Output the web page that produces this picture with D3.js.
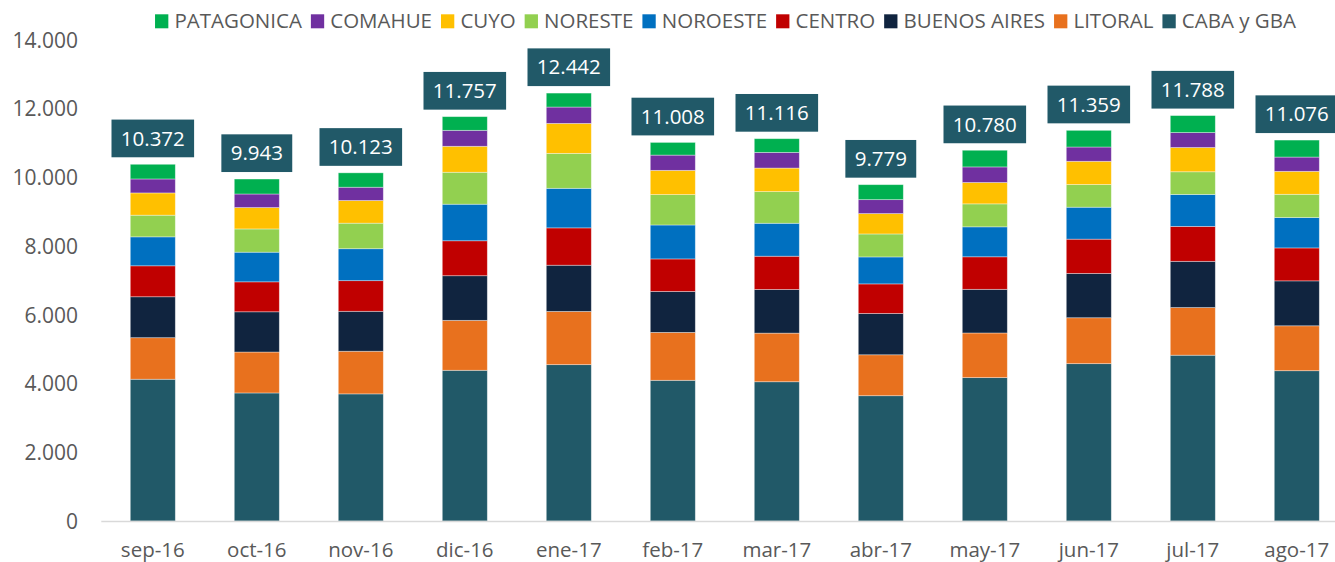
<!DOCTYPE html>
<html>
<head>
<meta charset="utf-8">
<script src="https://cdn.jsdelivr.net/npm/d3@7"></script>
<style>
  html, body { margin: 0; padding: 0; background: #fff; }
  svg { display: block; }
  text { font-family: "Open Sans", "DejaVu Sans", sans-serif; }
</style>
</head>
<body>
<svg id="chart" width="1335" height="562"></svg>
<script>
// ---- data ----
const months = ["sep-16","oct-16","nov-16","dic-16","ene-17","feb-17","mar-17","abr-17","may-17","jun-17","jul-17","ago-17"];
const cabaGba     = [4122,3723,3696,4382,4546,4091,4049,3643,4169,4575,4821,4370];
const litoral     = [1208,1190,1240,1452,1547,1393,1414,1190,1298,1335,1385,1306];
const buenosAires = [1190,1170,1161,1298,1344,1190,1269,1202,1269,1289,1344,1306];
const centro      = [900,871,891,1016,1086,946,967,859,946,996,1016,958];
const noroeste    = [842,862,929,1063,1150,987,958,784,871,929,929,883];
const noreste     = [630,676,743,929,1016,883,920,668,668,659,659,676];
const cuyo        = [647,621,659,755,871,705,685,592,621,676,705,668];
const comahue     = [406,395,386,464,476,444,456,406,453,415,435,415];
const patagonica  = [427,435,418,398,406,369,398,435,485,485,494,494];
const totals      = [10372,9943,10123,11757,12442,11008,11116,9779,10780,11359,11788,11076];
const yTicks      = [0,2000,4000,6000,8000,10000,12000,14000];

const seriesNames = ["CABA y GBA","LITORAL","BUENOS AIRES","CENTRO","NOROESTE","NORESTE","CUYO","COMAHUE","PATAGONICA"];
const seriesValues = [cabaGba, litoral, buenosAires, centro, noroeste, noreste, cuyo, comahue, patagonica];
const seriesColors = ["#215968","#E8711E","#10243F","#C00000","#0070C0","#92D050","#FFC000","#7030A0","#00B050"];

// ---- table for stacking ----
const table = months.map((m, i) => {
  const row = { month: m };
  seriesNames.forEach((s, k) => row[s] = seriesValues[k][i]);
  return row;
});

const svg = d3.select("#chart");
const locale = d3.formatLocale({ decimal: ",", thousands: ".", grouping: [3], currency: ["$", ""] });
const fmt = locale.format(",d");

const x = d3.scaleBand().domain(months).range([100.8, 1348.8]).paddingInner(0.567).paddingOuter(0.2835);
const y = d3.scaleLinear().domain([0, 14000]).range([521, 39.5]);
const color = d3.scaleOrdinal().domain(seriesNames).range(seriesColors);

const stack = d3.stack().keys(seriesNames);
const layers = stack(table);

// ---- y axis ----
const yAxis = svg.append("g")
  .attr("transform", "translate(78,0)")
  .call(d3.axisLeft(y).tickValues(yTicks).tickSize(0).tickPadding(0).tickFormat(fmt));
yAxis.select(".domain").remove();
yAxis.selectAll("text")
  .attr("fill", "#595959")
  .style("font-size", "21px")
  .style("font-family", "'Open Sans', sans-serif")
  .attr("dy", "0.36em");

// ---- bars ----
svg.append("g").selectAll("g")
  .data(layers)
  .join("g")
  .attr("fill", d => color(d.key))
  .selectAll("rect")
  .data(d => d)
  .join("rect")
  .attr("x", d => x(d.data.month))
  .attr("width", x.bandwidth())
  .attr("y", d => y(d[1]))
  .attr("height", d => y(d[0]) - y(d[1]))
  .attr("stroke", "#ffffff")
  .attr("stroke-opacity", 0.45)
  .attr("stroke-width", 0.8);

// ---- x axis ----
const xAxis = svg.append("g")
  .attr("transform", "translate(0,521)")
  .call(d3.axisBottom(x).tickSize(0).tickPadding(0));
xAxis.select(".domain").attr("stroke", "#d9d9d9").attr("stroke-width", 1.6);
xAxis.selectAll("text")
  .attr("fill", "#595959")
  .attr("y", 35.5)
  .attr("dy", 0)
  .style("font-size", "20.5px")
  .style("font-family", "'Open Sans', sans-serif");

// ---- total labels ----
const lab = svg.append("g").selectAll("g")
  .data(months)
  .join("g");
lab.each(function(m, i) {
  const g = d3.select(this);
  const cx = x(m) + x.bandwidth() / 2;
  const bottom = y(totals[i]) - 7;
  const t = g.append("text")
    .attr("x", cx)
    .attr("y", bottom - 19 + 7.3)
    .attr("text-anchor", "middle")
    .attr("fill", "#ffffff")
    .style("font-size", "20.5px")
    .text(fmt(totals[i]));
  const w = t.node().getComputedTextLength();
  g.insert("rect", "text")
    .attr("x", cx - w / 2 - 9.3)
    .attr("width", w + 18.6)
    .attr("y", bottom - 37.7)
    .attr("height", 37.7)
    .attr("fill", "#215968");
});

// ---- legend ----
const legendOrder = seriesNames.slice().reverse();
const leg = svg.append("g");
let cursor = 0;
legendOrder.forEach(name => {
  const g = leg.append("g");
  g.append("rect").attr("x", 0).attr("y", 14.3).attr("width", 13.3).attr("height", 14).attr("fill", color(name));
  const t = g.append("text").attr("x", 19.4).attr("y", 28.3).attr("fill", "#595959")
    .style("font-size", "20.5px").text(name);
  const w = 19.4 + t.node().getComputedTextLength();
  g.attr("transform", `translate(${cursor},0)`);
  cursor += w + 9;
});
const legW = cursor - 9;
leg.attr("transform", `translate(${725.5 - legW / 2},0)`);
</script>
</body>
</html>
